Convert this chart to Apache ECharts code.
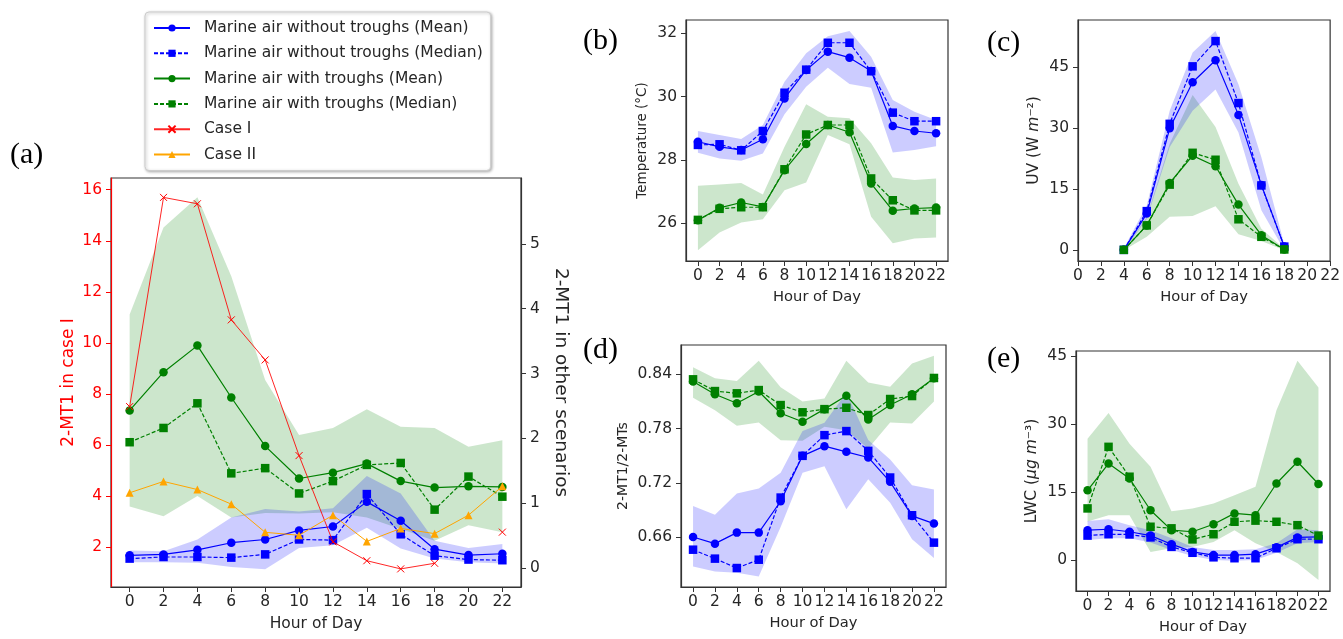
<!DOCTYPE html>
<html>
<head>
<meta charset="utf-8">
<script src="https://cdn.jsdelivr.net/npm/echarts@6/dist/echarts.min.js"></script>
<style>
html, body { margin: 0; padding: 0; background: #fff; }
#main { width: 1343px; height: 639px; }
</style>
</head>
<body>
<div id="main"></div>
<script>
// hours of day
var hours = [0, 2, 4, 6, 8, 10, 12, 14, 16, 18, 20, 22];
var uvHours = [4, 6, 8, 10, 12, 14, 16, 18];
var hourTicks = [0, 2, 4, 6, 8, 10, 12, 14, 16, 18, 20, 22];

// (a) 2-MT1
var aCase1 = [7.5, 15.7, 15.45, 10.9, 9.33, 5.58, 2.2, 1.46, 1.14, 1.36, null, 2.58];
var aCase2 = [1.16, 1.335, 1.21, 0.985, 0.55, 0.505, 0.815, 0.41, 0.61, 0.53, 0.815, 1.26];
var aBlueMean = [0.196, 0.21, 0.28, 0.39, 0.44, 0.58, 0.64, 1.02, 0.73, 0.29, 0.20, 0.22];
var aBlueMedian = [0.145, 0.17, 0.17, 0.16, 0.21, 0.44, 0.43, 1.14, 0.52, 0.19, 0.13, 0.12];
var aBlueLo = [0.09, 0.09, 0.08, 0.015, -0.02, 0.31, 0.35, 0.62, 0.30, 0.145, 0.09, 0.07];
var aBlueHi = [0.27, 0.26, 0.44, 0.78, 0.91, 0.87, 0.92, 1.42, 1.15, 0.42, 0.31, 0.37];
var aGreenMean = [2.43, 3.02, 3.43, 2.63, 1.88, 1.38, 1.47, 1.61, 1.34, 1.24, 1.26, 1.25];
var aGreenMedian = [1.94, 2.16, 2.54, 1.46, 1.54, 1.15, 1.34, 1.59, 1.62, 0.90, 1.41, 1.10];
var aGreenLo = [0.95, 0.80, 1.11, 0.78, 0.85, 0.84, 0.86, 0.78, 0.60, 0.42, 0.66, 0.55];
var aGreenHi = [3.91, 5.25, 5.72, 4.5, 2.9, 2.05, 2.16, 2.45, 2.18, 2.16, 1.87, 1.97];
var aLeftTicks = [2, 4, 6, 8, 10, 12, 14, 16];
var aRightTicks = [0, 1, 2, 3, 4, 5];

// (b) temperature
var bBlueMean = [28.57, 28.41, 28.31, 28.65, 29.94, 30.84, 31.42, 31.23, 30.81, 29.07, 28.91, 28.84];
var bBlueMedian = [28.47, 28.49, 28.3, 28.91, 30.12, 30.85, 31.7, 31.7, 30.8, 29.49, 29.22, 29.22];
var bBlueLo = [28.22, 28.04, 27.97, 28.2, 29.44, 30.31, 30.91, 30.4, 30.28, 28.23, 28.31, 28.43];
var bBlueHi = [28.91, 28.78, 28.66, 29.1, 30.47, 31.37, 31.91, 32.07, 31.26, 29.89, 29.52, 29.26];
var bGreenMean = [26.09, 26.48, 26.65, 26.51, 27.67, 28.5, 29.1, 28.87, 27.25, 26.39, 26.46, 26.49];
var bGreenMedian = [26.1, 26.45, 26.5, 26.5, 27.7, 28.8, 29.1, 29.1, 27.41, 26.72, 26.4, 26.4];
var bGreenLo = [25.14, 25.7, 26.02, 26.12, 27.04, 27.28, 28.78, 28.49, 26.2, 25.36, 25.51, 25.54];
var bGreenHi = [27.18, 27.22, 27.27, 26.9, 28.41, 29.76, 29.36, 29.31, 28.52, 27.44, 27.36, 27.41];
var bTicks = [26, 28, 30, 32];

// (c) UV
var cBlueMean = [0.1, 9.0, 29.9, 41.2, 46.6, 33.2, 16.0, 0.9];
var cBlueMedian = [0.1, 9.6, 31.0, 45.1, 51.3, 36.1, 15.9, 0.9];
var cBlueLo = [0, 7.7, 25.3, 34.2, 39.4, 28.9, 9.8, 0];
var cBlueHi = [0.5, 11, 34.2, 48.5, 53.8, 40.7, 22.8, 1.5];
var cGreenMean = [0.1, 6.1, 16.5, 23.2, 20.6, 11.2, 3.7, 0.2];
var cGreenMedian = [0.1, 6.1, 16.1, 23.9, 22.2, 7.6, 3.3, 0.2];
var cGreenLo = [0, 3.3, 8.2, 8.4, 10.8, 3.9, 2.3, 0];
var cGreenHi = [0.2, 8.1, 26.1, 38.1, 30.2, 16.3, 5.3, 0.4];
var cTicks = [0, 15, 30, 45];

// (d) 2-MT1/2-MTs
var dBlueMean = [0.66, 0.6526, 0.6648, 0.6648, 0.6995, 0.7498, 0.7605, 0.7542, 0.748, 0.721, 0.6833, 0.6748];
var dBlueMedian = [0.6459, 0.636, 0.6256, 0.6348, 0.7036, 0.7498, 0.7727, 0.7772, 0.7553, 0.7258, 0.684, 0.6537];
var dBlueLo = [0.6274, 0.6218, 0.6204, 0.6163, 0.671, 0.731, 0.7383, 0.6907, 0.7239, 0.698, 0.6574, 0.6367];
var dBlueHi = [0.6943, 0.6847, 0.708, 0.7136, 0.731, 0.7772, 0.7864, 0.8197, 0.7672, 0.7457, 0.7173, 0.7125];
var dGreenMean = [0.832, 0.818, 0.808, 0.821, 0.797, 0.7875, 0.8015, 0.8163, 0.79, 0.806, 0.818, 0.8356];
var dGreenMedian = [0.8345, 0.8215, 0.819, 0.8226, 0.806, 0.798, 0.8015, 0.803, 0.795, 0.8127, 0.816, 0.836];
var dGreenLo = [0.814, 0.8004, 0.783, 0.7867, 0.767, 0.7664, 0.782, 0.778, 0.758, 0.7867, 0.7856, 0.81];
var dGreenHi = [0.8478, 0.8356, 0.8326, 0.855, 0.8256, 0.81, 0.8134, 0.855, 0.831, 0.8263, 0.852, 0.8607];
var dTicks = [0.66, 0.72, 0.78, 0.84];

// (e) LWC
var eBlueMean = [6.6, 6.8, 6.25, 5.4, 3.5, 1.8, 1.1, 1.1, 1.3, 2.8, 5.0, 5.1];
var eBlueMedian = [5.4, 5.7, 5.65, 5.0, 2.9, 1.6, 0.6, 0.4, 0.4, 2.6, 4.6, 4.6];
var eBlueLo = [4.4, 4.8, 4.8, 3.9, 2.2, 0.9, 0, -0.15, 0, 1.6, 3.7, 4.0];
var eBlueHi = [8.6, 9.0, 7.7, 6.6, 4.8, 2.9, 2.2, 2.2, 2.4, 3.7, 6.8, 6.6];
var eGreenMean = [15.4, 21.3, 18.0, 11.0, 6.6, 6.25, 7.9, 10.3, 9.9, 16.9, 21.7, 16.8];
var eGreenMedian = [11.4, 25.0, 18.4, 7.35, 7.0, 4.56, 5.7, 8.45, 8.7, 8.45, 7.7, 5.4];
var eGreenLo = [8.5, 9.9, 9.9, 1.8, 2.6, 2.9, 4.0, 6.6, 3.7, 1.8, -0.7, -4.4];
var eGreenHi = [26.8, 32.5, 25.7, 20.6, 10.8, 11.4, 12.5, 14.3, 16.2, 33.1, 44.0, 38.1];
var eTicks = [0, 15, 30, 45];

var names = ['Marine air without troughs (Mean)', 'Marine air without troughs (Median)',
    'Marine air with troughs (Mean)', 'Marine air with troughs (Median)', 'Case I', 'Case II'];

var FONT = '"DejaVu Sans", sans-serif';
var TXT = '#262626';
var BLUE = '#0000ff', GREEN = '#008000', RED = '#ff0000', ORANGE = '#ffa500';
var BLUE_BAND = 'rgba(0,0,255,0.2)', GREEN_BAND = 'rgba(0,128,0,0.2)';

function pairs(xs, ys) {
    let out = [];
    for (let i = 0; i < xs.length; i++) {
        out.push([xs[i], ys[i]]);
    }
    return out;
}

//均值线 / 中位数线
function meanLine(name, color, xi, yi, xs, ys) {
    return {
        name: name, type: 'line', xAxisIndex: xi, yAxisIndex: yi,
        data: pairs(xs, ys), symbol: 'circle', symbolSize: 8.5, z: 5,
        lineStyle: {color: color, width: 1.2},
        itemStyle: {color: color}
    };
}

function medianLine(name, color, xi, yi, xs, ys) {
    return {
        name: name, type: 'line', xAxisIndex: xi, yAxisIndex: yi,
        data: pairs(xs, ys), symbol: 'rect', symbolSize: 8.5, z: 5,
        lineStyle: {color: color, width: 1.2, type: [4, 2]},
        itemStyle: {color: color}
    };
}

//阴影带
function band(xi, yi, xs, lo, hi, fill) {
    return {
        type: 'custom', xAxisIndex: xi, yAxisIndex: yi, silent: true, z: 1,
        data: [[xs[0], lo[0]]],
        renderItem: function (params, api) {
            let pts = [];
            for (let i = 0; i < xs.length; i++) pts.push(api.coord([xs[i], hi[i]]));
            for (let j = xs.length - 1; j >= 0; j--) pts.push(api.coord([xs[j], lo[j]]));
            return {type: 'polygon', shape: {points: pts}, style: {fill: fill}};
        }
    };
}

function panelSeries(xi, yi, xs, bm, bmed, blo, bhi, gm, gmed, glo, ghi) {
    return [
        band(xi, yi, xs, glo, ghi, GREEN_BAND),
        band(xi, yi, xs, blo, bhi, BLUE_BAND),
        meanLine(names[0], BLUE, xi, yi, xs, bm),
        medianLine(names[1], BLUE, xi, yi, xs, bmed),
        meanLine(names[2], GREEN, xi, yi, xs, gm),
        medianLine(names[3], GREEN, xi, yi, xs, gmed)
    ];
}

function xAxisOpt(gi, min, max, nameSize) {
    return {
        type: 'value', gridIndex: gi, min: min, max: max,
        name: 'Hour of Day', nameLocation: 'middle', nameGap: 29,
        nameTextStyle: {fontSize: nameSize, color: TXT, fontFamily: FONT},
        axisLine: {show: true, onZero: false, lineStyle: {color: '#333', width: 1.2}},
        axisTick: {show: true, length: 5, customValues: hourTicks, lineStyle: {color: '#333'}},
        axisLabel: {customValues: hourTicks, fontSize: 15.5, color: TXT, fontFamily: FONT, margin: 7},
        splitLine: {show: false}
    };
}

function yAxisOpt(gi, min, max, ticks, name, gap, nameSize, color, pos, rot) {
    let c = color || TXT;
    return {
        type: 'value', gridIndex: gi, min: min, max: max, position: pos || 'left',
        name: name, nameLocation: 'middle', nameGap: gap, nameRotate: rot === undefined ? 90 : rot,
        nameTextStyle: {fontSize: nameSize, color: c, fontFamily: FONT,
            rich: {
                t: {fontSize: nameSize, color: c, fontFamily: FONT},
                i: {fontSize: nameSize, color: c, fontFamily: FONT, fontStyle: 'italic'}
            }},
        axisLine: {show: true, onZero: false, lineStyle: {color: color || '#333', width: 1.2}},
        axisTick: {show: true, length: 5, customValues: ticks, lineStyle: {color: color || '#333'}},
        axisLabel: {customValues: ticks, fontSize: 15.5, color: c, fontFamily: FONT, margin: 9},
        splitLine: {show: false}
    };
}

var gridBox = {show: true, borderColor: '#333', borderWidth: 1.2, backgroundColor: 'transparent'};

var series = [];
// (a)
series = series.concat(panelSeries(0, 1, hours, aBlueMean, aBlueMedian, aBlueLo, aBlueHi,
    aGreenMean, aGreenMedian, aGreenLo, aGreenHi));
series.push({
    name: names[4], type: 'line', xAxisIndex: 0, yAxisIndex: 0, data: pairs(hours, aCase1),
    symbol: 'path://M0,0L10,10M10,0L0,10', symbolSize: 7, z: 6,
    lineStyle: {color: RED, width: 1, opacity: 0.85},
    itemStyle: {color: RED, borderColor: RED, borderWidth: 1}
});
series.push({
    name: names[5], type: 'line', xAxisIndex: 0, yAxisIndex: 1, data: pairs(hours, aCase2),
    symbol: 'triangle', symbolSize: 8, z: 6,
    lineStyle: {color: ORANGE, width: 1},
    itemStyle: {color: ORANGE}
});
// (b) - (e)
series = series.concat(panelSeries(1, 2, hours, bBlueMean, bBlueMedian, bBlueLo, bBlueHi,
    bGreenMean, bGreenMedian, bGreenLo, bGreenHi));
series = series.concat(panelSeries(2, 3, uvHours, cBlueMean, cBlueMedian, cBlueLo, cBlueHi,
    cGreenMean, cGreenMedian, cGreenLo, cGreenHi));
series = series.concat(panelSeries(3, 4, hours, dBlueMean, dBlueMedian, dBlueLo, dBlueHi,
    dGreenMean, dGreenMedian, dGreenLo, dGreenHi));
series = series.concat(panelSeries(4, 5, hours, eBlueMean, eBlueMedian, eBlueLo, eBlueHi,
    eGreenMean, eGreenMedian, eGreenLo, eGreenHi));

var serif = '"Liberation Serif", "DejaVu Serif", serif';
var option = {
    animation: false,
    backgroundColor: '#fff',
    textStyle: {fontFamily: FONT},
    legend: {
        data: names, orient: 'vertical', left: 145, top: 12,
        itemWidth: 36, itemHeight: 9, itemGap: 9.3,
        padding: [8, 8, 8, 8],
        selectedMode: false,
        backgroundColor: '#fff', borderColor: '#ccc', borderWidth: 1, borderRadius: 4,
        shadowBlur: 3, shadowColor: 'rgba(0,0,0,0.3)', shadowOffsetX: 1, shadowOffsetY: 1,
        textStyle: {fontSize: 15.5, color: TXT, fontFamily: FONT, padding: [0, 0, 0, 9]}
    },
    grid: [
        Object.assign({left: 111, top: 178, width: 410, height: 409}, gridBox),
        Object.assign({left: 686, top: 20, width: 262, height: 241}, gridBox),
        Object.assign({left: 1078, top: 20, width: 253, height: 241}, gridBox),
        Object.assign({left: 681, top: 345, width: 265, height: 242}, gridBox),
        Object.assign({left: 1076, top: 351, width: 254, height: 240}, gridBox)
    ],
    xAxis: [
        xAxisOpt(0, -1.1, 23.1, 15.5),
        xAxisOpt(1, -1.1, 23.1, 14.7),
        xAxisOpt(2, 0, 22, 14.7),
        xAxisOpt(3, -1.1, 23.1, 14.7),
        xAxisOpt(4, -1.1, 23.1, 14.7)
    ],
    yAxis: [
        yAxisOpt(0, 0.43, 16.46, aLeftTicks, '2-MT1 in case I', 34, 17, RED),
        yAxisOpt(0, -0.293, 6.015, aRightTicks, '2-MT1 in other scenarios', 30, 18.5, null, 'right', -90),
        yAxisOpt(1, 24.8, 32.42, bTicks, 'Temperature (°C)', 37, 13.5),
        yAxisOpt(2, -2.63, 56.47, cTicks, '{t|UV (W }{i|m}{t|⁻²)}', 36, 15.5),
        yAxisOpt(3, 0.6046, 0.8725, dTicks, '2-MT1/2-MTs', 51, 14),
        yAxisOpt(4, -6.84, 46.17, eTicks, '{t|LWC (}{i|μg m}{t|⁻³)}', 36, 15.5)
    ],
    graphic: [
        {type: 'text', left: 10, top: 140, style: {text: '(a)', fontSize: 30, fontFamily: serif, fill: '#000'}},
        {type: 'text', left: 583, top: 26, style: {text: '(b)', fontSize: 30, fontFamily: serif, fill: '#000'}},
        {type: 'text', left: 987, top: 28, style: {text: '(c)', fontSize: 30, fontFamily: serif, fill: '#000'}},
        {type: 'text', left: 583, top: 335, style: {text: '(d)', fontSize: 30, fontFamily: serif, fill: '#000'}},
        {type: 'text', left: 987, top: 344, style: {text: '(e)', fontSize: 30, fontFamily: serif, fill: '#000'}}
    ],
    series: series
};

var chart = document.getElementById('main');
var echart = echarts.init(chart);
echart.setOption(option);
</script>
</body>
</html>
